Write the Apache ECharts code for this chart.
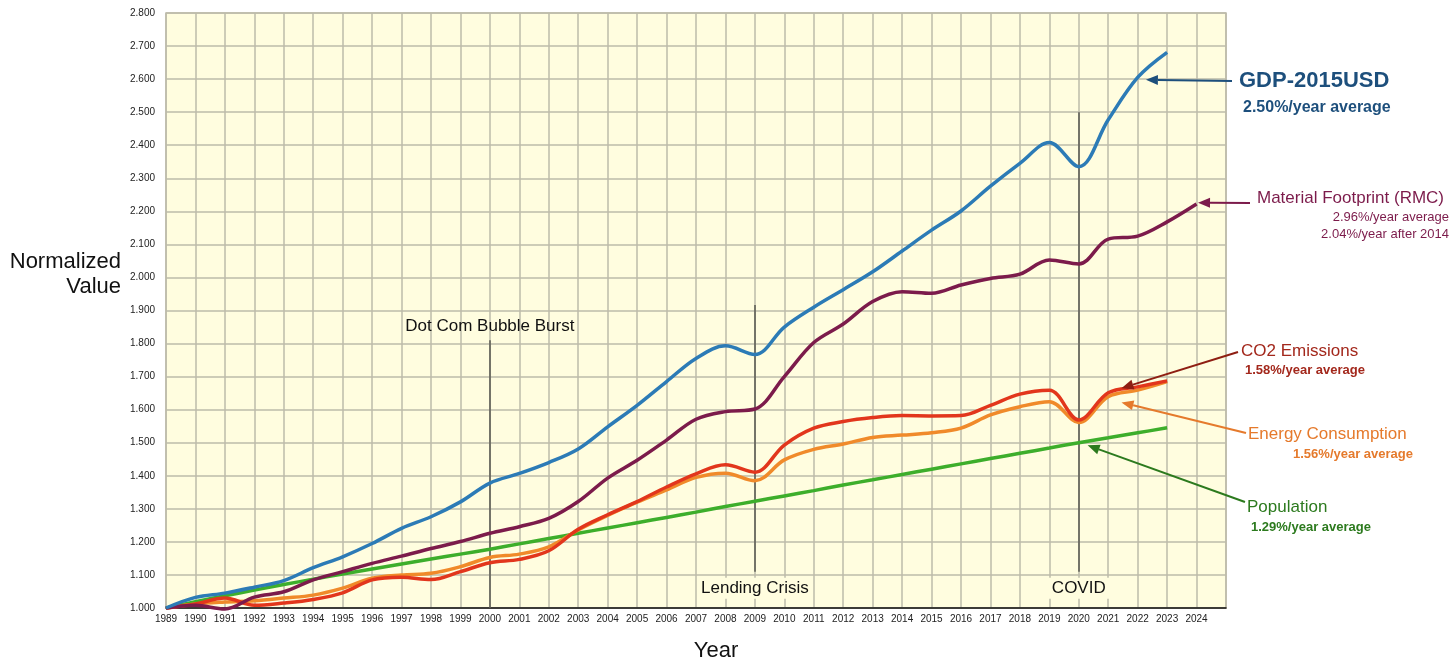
<!DOCTYPE html>
<html>
<head>
<meta charset="utf-8">
<script src="https://cdn.jsdelivr.net/npm/echarts@6/dist/echarts.min.js"></script>
<style>
  html, body { margin: 0; padding: 0; background: #fff; }
  #chart { width: 1456px; height: 669px; }
</style>
</head>
<body>
<div id="chart"></div>
<script>
// years on the x axis
const years = [1989, 1990, 1991, 1992, 1993, 1994, 1995, 1996, 1997, 1998, 1999, 2000,
  2001, 2002, 2003, 2004, 2005, 2006, 2007, 2008, 2009, 2010, 2011, 2012, 2013, 2014,
  2015, 2016, 2017, 2018, 2019, 2020, 2021, 2022, 2023];
const yearsMaterial = years.concat([2024]);

// normalized values (1989 = 1.000)
const gdp = [1.000, 1.032, 1.045, 1.063, 1.083, 1.122, 1.155, 1.195, 1.241, 1.276, 1.321, 1.378,
  1.407, 1.440, 1.481, 1.548, 1.613, 1.685, 1.755, 1.793, 1.767, 1.850, 1.910, 1.963, 2.017,
  2.080, 2.143, 2.201, 2.276, 2.345, 2.408, 2.335, 2.477, 2.605, 2.681];
const material = [1.000, 1.008, 0.997, 1.033, 1.049, 1.085, 1.110, 1.135, 1.157, 1.180, 1.201, 1.226,
  1.246, 1.271, 1.322, 1.393, 1.447, 1.508, 1.571, 1.594, 1.602, 1.700, 1.803, 1.859, 1.927,
  1.957, 1.952, 1.977, 1.997, 2.010, 2.053, 2.041, 2.116, 2.125, 2.168, 2.222];
const co2 = [1.000, 1.012, 1.030, 1.008, 1.015, 1.026, 1.046, 1.085, 1.093, 1.086, 1.110, 1.137,
  1.147, 1.173, 1.238, 1.282, 1.322, 1.366, 1.406, 1.433, 1.411, 1.493, 1.544, 1.564, 1.576,
  1.582, 1.581, 1.582, 1.613, 1.647, 1.659, 1.569, 1.651, 1.669, 1.687];
const energy = [1.000, 1.012, 1.018, 1.022, 1.030, 1.039, 1.060, 1.090, 1.100, 1.105, 1.125, 1.153,
  1.163, 1.185, 1.236, 1.280, 1.320, 1.357, 1.395, 1.408, 1.385, 1.448, 1.480, 1.496, 1.516,
  1.523, 1.530, 1.544, 1.584, 1.609, 1.624, 1.561, 1.639, 1.659, 1.685];
const population = [1.000, 1.019, 1.037, 1.054, 1.071, 1.087, 1.103, 1.118, 1.133, 1.148, 1.163, 1.178,
  1.194, 1.210, 1.226, 1.242, 1.258, 1.274, 1.290, 1.307, 1.323, 1.339, 1.355, 1.372, 1.388,
  1.404, 1.420, 1.436, 1.452, 1.468, 1.484, 1.500, 1.515, 1.530, 1.545];

// event lines: year, top value, bottom value, label
const events = [
  { name: 'Dot Com Bubble Burst', year: 2000, top: 1.81, bottom: 1.0, labelAt: 'top' },
  { name: 'Lending Crisis', year: 2009, top: 1.917, bottom: 1.11, labelAt: 'bottom' },
  { name: 'COVID', year: 2020, top: 2.5, bottom: 1.11, labelAt: 'bottom' }
];

const FONT = "'Helvetica Neue', Helvetica, 'Liberation Sans', Arial, sans-serif";
const PLOT_BG = '#FFFDDF';

function pairs(xs, ys) {
  return ys.map((v, i) => [xs[i], v]);
}

function lineSeries(name, xs, ys, color, z) {
  return {
    name: name,
    type: 'line',
    data: pairs(xs, ys),
    smooth: 0.35,
    showSymbol: false,
    clip: false,
    z: z,
    lineStyle: { color: color, width: 3.5 },
    itemStyle: { color: color }
  };
}

const chart = echarts.init(document.getElementById('chart'));

const eventLines = events.map(e => {
  const lbl = {
    show: true,
    formatter: e.name,
    fontFamily: FONT,
    fontSize: 17,
    color: '#111',
    position: e.labelAt === 'top' ? 'end' : 'start',
    distance: e.labelAt === 'top' ? 3 : 6,
    backgroundColor: e.labelAt === 'top' ? 'transparent' : PLOT_BG,
    padding: [2, 4]
  };
  return [
    { coord: [e.year, e.bottom], label: lbl },
    { coord: [e.year, e.top] }
  ];
});
// for bottom labels flip order so 'start' is at the bottom end
eventLines.forEach((pair, i) => {
  if (events[i].labelAt === 'bottom') {
    pair[0].coord = [events[i].year, events[i].bottom];
    pair[1].coord = [events[i].year, events[i].top];
  }
});

const option = {
  animation: false,
  backgroundColor: '#ffffff',
  grid: {
    left: 166, right: 230, top: 13, bottom: 61,
    show: true,
    backgroundColor: PLOT_BG,
    borderColor: '#BDBBAA',
    borderWidth: 1.5
  },
  xAxis: {
    type: 'value',
    min: 1989,
    max: 2025,
    interval: 1,
    axisLine: { show: true, onZero: false, lineStyle: { color: '#111', width: 1.5 } },
    axisTick: { show: false },
    axisLabel: {
      fontFamily: FONT, fontSize: 10, color: '#222', margin: 6,
      formatter: v => (v === 2025 ? '' : String(v))
    },
    splitLine: { show: true, lineStyle: { color: '#BDBBAA', width: 1.5 } }
  },
  yAxis: {
    type: 'value',
    min: 1.0,
    max: 2.8,
    interval: 0.1,
    axisLine: { show: false },
    axisTick: { show: false },
    axisLabel: {
      fontFamily: FONT, fontSize: 10, color: '#222', margin: 11,
      formatter: v => v.toFixed(3)
    },
    splitLine: { show: true, lineStyle: { color: '#BDBBAA', width: 1.5 } }
  },
  series: [
    lineSeries('Population', years, population, '#3DAE2B', 3),
    lineSeries('Energy Consumption', years, energy, '#F08A2A', 4),
    lineSeries('CO2 Emissions', years, co2, '#E2361C', 5),
    lineSeries('Material Footprint (RMC)', yearsMaterial, material, '#7C1B4B', 6),
    Object.assign(lineSeries('GDP-2015USD', years, gdp, '#2C7BB6', 7), {
      markLine: {
        silent: true,
        symbol: ['none', 'none'],
        z: 2,
        lineStyle: { color: '#5E5E55', width: 1.6, type: 'solid' },
        data: eventLines
      }
    })
  ]
};

chart.setOption(option);

// annotation texts and arrows on the right
function arrow(from, tipData, color) {
  const tip = chart.convertToPixel({ gridIndex: 0 }, tipData);
  const dx = tip[0] - from[0], dy = tip[1] - from[1];
  const len = Math.sqrt(dx * dx + dy * dy);
  const ux = dx / len, uy = dy / len;
  const hl = 12, hw = 5;
  const bx = tip[0] - ux * hl, by = tip[1] - uy * hl;
  return [
    {
      type: 'line', z: 100,
      shape: { x1: from[0], y1: from[1], x2: bx, y2: by },
      style: { stroke: color, lineWidth: 2 }
    },
    {
      type: 'polygon', z: 100,
      shape: { points: [[tip[0], tip[1]], [bx - uy * hw, by + ux * hw], [bx + uy * hw, by - ux * hw]] },
      style: { fill: color }
    }
  ];
}

function text(x, y, str, size, color, align, weight) {
  return {
    type: 'text', x: x, y: y, z: 100,
    style: {
      text: str, fontFamily: FONT, fontSize: size, fill: color,
      align: align || 'left', verticalAlign: 'middle', fontWeight: weight || 'normal'
    }
  };
}

const graphics = [].concat(
  text(121, 262, 'Normalized', 22, '#111', 'right'),
  text(121, 287, 'Value', 22, '#111', 'right'),
  text(716, 651, 'Year', 22, '#111', 'center'),

  text(1239, 81, 'GDP-2015USD', 22, '#1D4F7C', 'left', 'bold'),
  text(1243, 108, '2.50%/year average', 16, '#1D4F7C', 'left', 'bold'),
  arrow([1232, 81], [2022.28, 2.598], '#1D4F7C'),

  text(1257, 198, 'Material Footprint (RMC)', 17, '#7C1B4B', 'left'),
  text(1449, 217, '2.96%/year average', 13, '#7C1B4B', 'right'),
  text(1449, 234, '2.04%/year after 2014', 13, '#7C1B4B', 'right'),
  arrow([1250, 203], [2024.05, 2.226], '#7C1B4B'),

  text(1241, 351, 'CO2 Emissions', 17, '#A3281C', 'left'),
  text(1245, 370, '1.58%/year average', 13, '#A3281C', 'left', 'bold'),
  arrow([1238, 352], [2021.45, 1.665], '#8E1E12'),

  text(1248, 434, 'Energy Consumption', 17, '#E57A2C', 'left'),
  text(1413, 454, '1.56%/year average', 13, '#E57A2C', 'right', 'bold'),
  arrow([1246, 433], [2021.45, 1.622], '#E57A2C'),

  text(1247, 507, 'Population', 17, '#2C7A1E', 'left'),
  text(1251, 527, '1.29%/year average', 13, '#2C7A1E', 'left', 'bold'),
  arrow([1245, 502], [2020.3, 1.492], '#2C7A1E')
);

chart.setOption({ graphic: graphics });
</script>
</body>
</html>
